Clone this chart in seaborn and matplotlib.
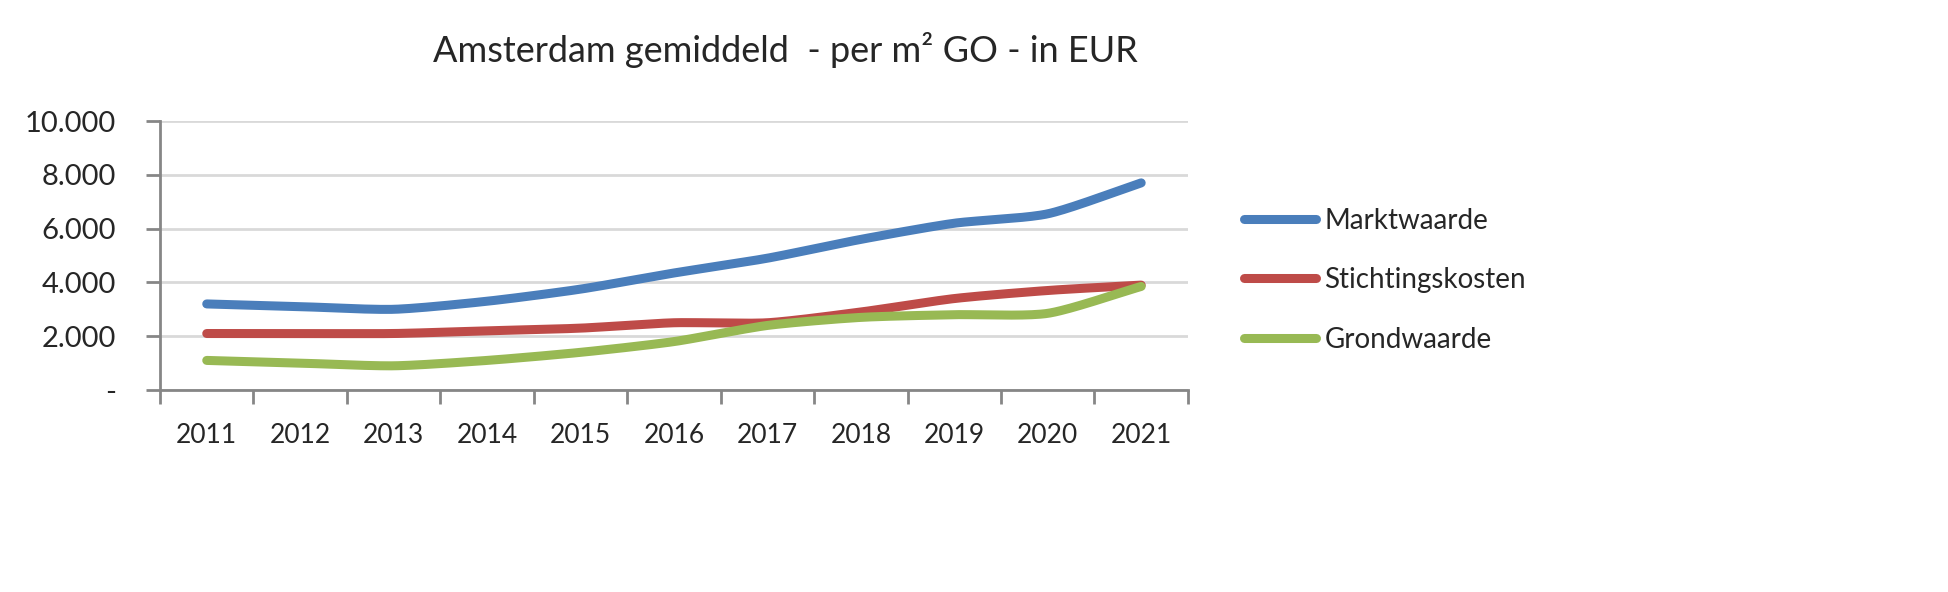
import numpy as np
import pandas as pd
import matplotlib
matplotlib.use("Agg")
import matplotlib.pyplot as plt
import seaborn as sns

years = ["2011", "2012", "2013", "2014", "2015", "2016", "2017", "2018", "2019", "2020", "2021"]
marktwaarde = [3200, 3100, 3000, 3300, 3750, 4350, 4900, 5600, 6200, 6550, 7700]
stichtingskosten = [2100, 2100, 2100, 2200, 2300, 2500, 2500, 2900, 3400, 3700, 3900]
grondwaarde = [1100, 1000, 900, 1100, 1400, 1800, 2400, 2700, 2800, 2850, 3850]
series_names = ["Marktwaarde", "Stichtingskosten", "Grondwaarde"]
colors = ["#4a7ebb", "#be4b48", "#98b954"]
yticks = [0, 2000, 4000, 6000, 8000, 10000]

sns.set_theme(style="white")
plt.rcParams['font.family'] = ['Lato', 'DejaVu Sans']


def smooth(xs, ys, n=30):
    # Catmull-Rom spline through the data points (Excel-like smoothed line)
    xs = np.asarray(xs, float); ys = np.asarray(ys, float)
    px = np.concatenate([[2 * xs[0] - xs[1]], xs, [2 * xs[-1] - xs[-2]]])
    py = np.concatenate([[2 * ys[0] - ys[1]], ys, [2 * ys[-1] - ys[-2]]])
    ox, oy = [], []
    for i in range(1, len(px) - 2):
        t = np.linspace(0, 1, n, endpoint=False)
        for arr, out in ((px, ox), (py, oy)):
            p0, p1, p2, p3 = arr[i - 1], arr[i], arr[i + 1], arr[i + 2]
            m1 = (p2 - p0) / 2 * 0.7
            m2 = (p3 - p1) / 2 * 0.7
            h00 = 2 * t**3 - 3 * t**2 + 1
            h10 = t**3 - 2 * t**2 + t
            h01 = -2 * t**3 + 3 * t**2
            h11 = t**3 - t**2
            out.extend(h00 * p1 + h10 * m1 + h01 * p2 + h11 * m2)
    ox.append(xs[-1]); oy.append(ys[-1])
    return np.array(ox), np.array(oy)


x = np.arange(len(years))
frames = []
for name, vals in zip(series_names, [marktwaarde, stichtingskosten, grondwaarde]):
    sx, sy = smooth(x, vals)
    frames.append(pd.DataFrame({"x": sx, "y": sy, "serie": name}))
df = pd.concat(frames, ignore_index=True)

fig = plt.figure(figsize=(19.49, 5.92), dpi=100)
ax = fig.add_axes([0.0821, 0.3412, 0.5274, 0.4544])

sns.lineplot(data=df, x="x", y="y", hue="serie", palette=colors, hue_order=series_names,
             linewidth=6.5, ax=ax, sort=False, estimator=None, legend=True)
for line in ax.get_lines():
    line.set_solid_capstyle("round")

ax.set_xlim(-0.5, len(years) - 0.5)
ax.set_ylim(0, 10000)
ax.set_xticks(x)
ax.set_xticklabels(years, fontsize=19)
ax.set_xticks(np.arange(-0.5, len(years), 1.0), minor=True)
ax.tick_params(axis="x", which="major", length=0, pad=24)
ax.tick_params(axis="x", which="minor", length=10, width=2, color="#868686", direction="out", bottom=True)
ax.set_yticks(yticks)
ax.set_yticklabels(["-" if v == 0 else f"{v:,}".replace(",", ".") for v in yticks], fontsize=21)
ax.tick_params(axis="y", length=10, width=2, color="#868686", direction="out", left=True, pad=22)
ax.yaxis.grid(True, color="#d9d9d9", linewidth=2)
ax.xaxis.grid(False)
for s in ["top", "right"]:
    ax.spines[s].set_visible(False)
for s in ["left", "bottom"]:
    ax.spines[s].set_color("#868686")
    ax.spines[s].set_linewidth(2)
ax.set_xlabel("")
ax.set_ylabel("")

leg = ax.legend(loc="upper left", bbox_to_anchor=(1.03, 0.77), frameon=False, fontsize=20,
                handlelength=2.6, handletextpad=0.3, labelspacing=1.2)
for h in leg.get_lines():
    h.set_linewidth(6.5)
    h.set_solid_capstyle("round")

fig.text(0.403, 0.915, "Amsterdam gemiddeld  - per m² GO - in EUR", ha="center", va="center", fontsize=26)

fig.savefig("out.png", dpi=100)
